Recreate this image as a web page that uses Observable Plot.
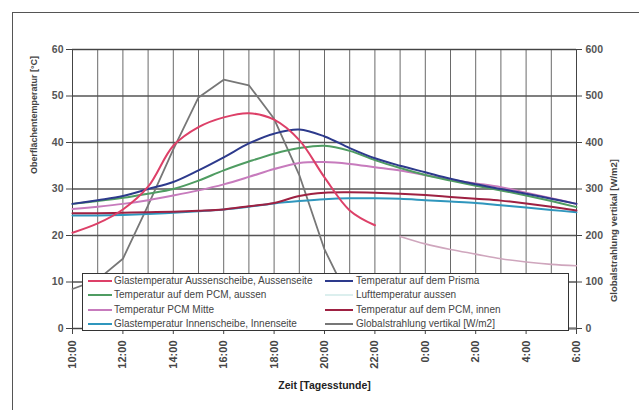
<!DOCTYPE html>
<html><head><meta charset="utf-8">
<script src="https://cdn.jsdelivr.net/npm/d3@7"></script>
<script src="https://cdn.jsdelivr.net/npm/@observablehq/plot@0.6"></script>
<style>
body{margin:0;background:#fff;}
#wrap{position:relative;width:639px;height:410px;overflow:hidden;font-family:"Liberation Sans",Arial,sans-serif;background:#fff;}
#frame{position:absolute;left:12px;top:12px;right:-5px;bottom:-5px;border-left:1.5px solid #555;border-top:1.5px solid #555;pointer-events:none;}
#legend{position:absolute;left:82px;top:273px;width:487px;height:58px;box-sizing:border-box;border:1px solid #333;background:#fff;font-size:10px;color:#444;}
.item{position:absolute;height:14px;line-height:14px;white-space:nowrap;}
.sw{position:absolute;top:6px;height:2px;}
</style></head>
<body><div id="wrap"><div id="chart"></div><div id="legend"></div><div id="frame"></div></div>
<script>
// hours of the day (10:00 -> 6:00 next morning, as 10..30)
const hours = [10,11,12,13,14,15,16,17,18,19,20,21,22,23,24,25,26,27,28,29,30];
const hoursDay = [10,11,12,13,14,15,16,17,18,19,20,21,22];
const hoursNight = [23,24,25,26,27,28,29,30];
const xTicks = [10,12,14,16,18,20,22,24,26,28,30];
const yTicks = [0,10,20,30,40,50,60];

// series values (°C)
const glasAussenTag   = [20.6,22.6,25.6,30.5,39.3,43.3,45.4,46.3,44.9,40.5,32.5,25.4,22.2];
const glasAussenNacht = [19.8,18.2,17.0,16.0,15.0,14.3,13.8,13.5];
const pcmAussen  = [26.8,27.4,28.1,29.0,30.0,31.8,34.0,35.9,37.6,38.8,39.3,38.2,36.2,34.5,33.0,31.8,30.7,29.7,28.6,27.4,26.1];
const pcmMitte   = [25.7,26.2,26.8,27.6,28.6,29.7,31.0,32.6,34.3,35.6,35.8,35.4,34.7,34.0,33.0,32.0,31.2,30.4,29.2,28.0,26.8];
const glasInnen  = [24.3,24.3,24.4,24.6,24.9,25.2,25.6,26.2,26.9,27.4,27.8,28.0,28.0,27.9,27.6,27.3,27.0,26.5,26.0,25.5,25.0];
const prisma     = [26.8,27.6,28.5,30.0,31.5,34.0,36.8,39.8,41.9,42.8,41.3,38.8,36.6,35.0,33.6,32.2,31.0,30.0,29.0,27.9,26.8];
const pcmInnen   = [24.8,24.8,24.9,25.0,25.1,25.3,25.6,26.3,27.0,28.5,29.2,29.3,29.2,29.0,28.7,28.3,27.9,27.5,26.9,26.2,25.4];
// global radiation (W/m2), right axis
const strahlung  = [85,105,150,265,385,497,535,523,451,330,170,60,0,0,0,0,0,0,0,0,0];

const legendCol1 = ["Glastemperatur Aussenscheibe, Aussenseite","Temperatur auf dem PCM, aussen","Temperatur PCM Mitte","Glastemperatur Innenscheibe, Innenseite"];
const legendCol2 = ["Temperatur auf dem Prisma","Lufttemperatur aussen","Temperatur auf dem PCM, innen","Globalstrahlung vertikal [W/m2]"];
const colors1 = ["#dd4068","#4f9c62","#c77bbd","#2f96bd"];
const colors2 = ["#2d3a8c","#dcefee","#9e2142","#777777"];
const nightColor = "#cfa6bd";

const fmt = h => `${h % 24}:00`;

const line = (vals, xs, color, opts = {}) =>
  Plot.line(vals, {x: (d, i) => xs[i], y: d => d, stroke: color, strokeWidth: 2, curve: "catmull-rom", ...opts});

const chart = Plot.plot({
  width: 639, height: 410,
  marginLeft: 72, marginRight: 63, marginTop: 49, marginBottom: 82,
  style: {fontFamily: "'Liberation Sans', Arial, sans-serif", color: "#444", background: "transparent"},
  x: {domain: [10, 30]},
  y: {domain: [0, 60]},
  marks: [
    Plot.gridX(hours, {stroke: "#6a6a6a", strokeOpacity: 1, strokeWidth: 1}),
    Plot.gridY(yTicks, {stroke: "#555", strokeOpacity: 1, strokeWidth: 1.3}),
    Plot.frame({stroke: "#444"}),
    Plot.line(strahlung, {x: (d, i) => hours[i], y: d => d / 10, stroke: colors2[3], strokeWidth: 1.8}),
    line(glasInnen, hours, colors1[3]),
    line(pcmInnen, hours, colors2[2]),
    line(pcmMitte, hours, colors1[2]),
    line(pcmAussen, hours, colors1[1]),
    line(prisma, hours, colors2[0]),
    line(glasAussenNacht, hoursNight, nightColor, {strokeWidth: 1.6}),
    line(glasAussenTag, hoursDay, colors1[0]),
    Plot.axisX(xTicks, {tickFormat: fmt, tickRotate: -90, tickSize: 6, tickPadding: 6, fontSize: 11, fontWeight: "bold", fill: "#444", label: null}),
    Plot.axisY(yTicks, {anchor: "left", tickSize: 6, tickPadding: 3, fontSize: 10.5, fontWeight: "bold", fill: "#555", label: null}),
    Plot.axisY(yTicks, {anchor: "right", tickSize: 5, tickPadding: 4, tickFormat: d => d * 10, fontSize: 10.5, fontWeight: "bold", fill: "#555", label: null}),
    Plot.text(["Oberflächentemperatur [°C]"], {frameAnchor: "left", rotate: -90, dx: -38, dy: -15, fontSize: 9, fontWeight: "bold", fill: "#444"}),
    Plot.text(["Globalstrahlung vertikal [W/m2]"], {frameAnchor: "right", rotate: -90, dx: 37, dy: -30, fontSize: 9.5, fontWeight: "bold", fill: "#444"}),
    Plot.text(["Zeit [Tagesstunde]"], {frameAnchor: "bottom", dy: 60, fontSize: 10.5, fontWeight: "bold", fill: "#222"})
  ]
});
document.getElementById("chart").appendChild(chart);

const leg = document.getElementById("legend");
const rowTops = [0, 14, 29, 43];
function addItem(col, i, name, color) {
  const d = document.createElement("div");
  d.className = "item";
  d.style.top = rowTops[i] + "px";
  d.style.left = (col === 0 ? 5 : 242) + "px";
  const sw = document.createElement("div");
  sw.className = "sw";
  sw.style.left = "0px";
  sw.style.width = (col === 0 ? 24 : 28) + "px";
  sw.style.background = color;
  const t = document.createElement("span");
  t.textContent = name;
  t.style.marginLeft = (col === 0 ? 26 : 31) + "px";
  d.appendChild(sw); d.appendChild(t);
  leg.appendChild(d);
}
legendCol1.forEach((n, i) => addItem(0, i, n, colors1[i]));
legendCol2.forEach((n, i) => addItem(1, i, n, colors2[i]));
</script></body></html>
